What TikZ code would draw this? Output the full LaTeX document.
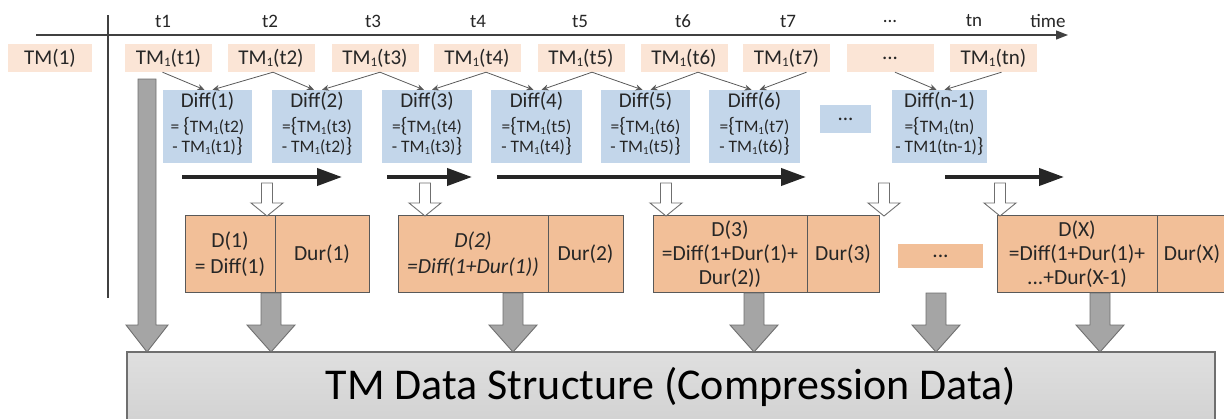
\documentclass[tikz,border=0pt]{standalone}
\usepackage{fontspec}
\setmainfont{Carlito}
\usetikzlibrary{arrows.meta,calc}

\definecolor{tmfill}{HTML}{FBE5D6}
\definecolor{difffill}{HTML}{C3D6EA}
\definecolor{dfill}{HTML}{F2BF98}
\definecolor{dline}{HTML}{595959}
\definecolor{garrow}{HTML}{A5A5A5}
\definecolor{garrowline}{HTML}{6F6F6F}
\definecolor{ink}{HTML}{262626}
\definecolor{axisink}{HTML}{404040}

\newcommand\fs[2]{\fontsize{#1}{#2}\selectfont}
% small subscript one used in TM_1
\newcommand\subone{\raisebox{-0.1em}{\scalebox{0.62}{1}}}
% downward block arrow: style, x, y top, y head, y tip, half shaft, half head
\newcommand\blockdown[7]{%
  \path[#1] (#2-#6,#3) -- (#2+#6,#3) -- (#2+#6,#4) -- (#2+#7,#4)
    -- (#2,#5) -- (#2-#7,#4) -- (#2-#6,#4) -- cycle;}
% one difference cell: name, x, width, title, second line, third line
\newcommand\diffcell[6]{%
  \node[diffbox, minimum width=#3] (#1) at (#2,126.5) {};
  \node[difftitle, anchor=base] (#1-a) at ($(#1.north)+(0,18)$) {#4};
  \node[diffline, anchor=base] (#1-b) at ($(#1.north)+(0,43)$) {#5};
  \node[diffline, anchor=base] (#1-c) at ($(#1.north)+(0,63)$) {#6};}
\newcommand\lb{{\fs{21}{21}\{}}
\newcommand\rb{{\fs{21}{21}\}}}

\begin{document}
\begin{tikzpicture}[x=1pt,y=-1pt,
  tmbox/.style={fill=tmfill, minimum height=28pt, minimum width=87pt, inner sep=0pt, font=\fs{21}{24}, text=ink},
  ticklabel/.style={inner sep=0pt, font=\fs{19}{22}, text=ink},
  diffbox/.style={fill=difffill, minimum height=73pt, inner sep=0pt},
  difftitle/.style={inner sep=0pt, font=\fs{21}{24}, text=ink},
  diffline/.style={inner sep=0pt, font=\fs{17.5}{20}, text=ink},
  dcell/.style={draw=dline, fill=dfill, line width=0.9pt, inner sep=0pt, align=center,
    minimum height=77pt, font=\fs{21.5}{24}, text=ink},
  link/.style={draw=dline, line width=0.8pt, -{Stealth[length=7pt,width=6pt]}},
  axis/.style={draw=axisink, line width=1.3pt, -{Triangle[length=12pt,width=9pt]}},
  axisline/.style={draw=axisink, line width=1.1pt},
  flow/.style={draw=ink, line width=4pt, -{Triangle[length=25pt,width=17pt]}},
  hollow/.style={draw=garrowline, fill=white, line width=0.9pt},
  solid/.style={draw=garrowline, fill=garrow, line width=0.9pt},
  basebox/.style={draw=garrowline, line width=1.2pt, top color=gray!25, bottom color=gray!35,
    minimum width=1088pt, minimum height=70pt, inner sep=0pt, font=\fs{44}{48}, text=black}
]
\useasboundingbox (0,0) rectangle (1224,418);

% time axis
\coordinate (axL) at (36,35);
\coordinate (axR) at (1068,35);
\draw[axis] (axL) -- (axR);
\coordinate (vT) at (108,15);
\coordinate (vB) at (108,298);
\draw[axisline] (vT) -- (vB);

\foreach \x/\t [count=\i] in {163/t1,270/t2,373/t3,478/t4,580/t5,683/t6,788/t7,890/{...},974/tn}
  {\node[ticklabel] (tick\i) at (\x,21) {\t};}
\node[ticklabel] (timelabel) at (1048,21) {time};

% sampled values
\node[tmbox, minimum width=84pt] (tm0) at (50,58) {TM(1)};
\foreach \x/\n/\lab in {168.5/tm1/t1,271/tm2/t2,375/tm3/t3,477/tm4/t4,581/tm5/t5,684/tm6/t6,786.5/tm7/t7,993.5/tmn/tn}
  {\node[tmbox] (\n) at (\x,58) {TM\subone(\lab)};}
\node[tmbox] (tmd) at (890,58) {...};

% differences
\diffcell{df1}{207.5}{89pt}{Diff(1)}{= \lb TM\subone(t2)}{- TM\subone(t1)\rb}
\diffcell{df2}{317}{90pt}{Diff(2)}{=\lb TM\subone(t3)}{- TM\subone(t2)\rb}
\diffcell{df3}{427}{90pt}{Diff(3)}{=\lb TM\subone(t4)}{- TM\subone(t3)\rb}
\diffcell{df4}{536.5}{91pt}{Diff(4)}{=\lb TM\subone(t5)}{- TM\subone(t4)\rb}
\diffcell{df5}{645.5}{89pt}{Diff(5)}{=\lb TM\subone(t6)}{- TM\subone(t5)\rb}
\diffcell{df6}{754.5}{91pt}{Diff(6)}{=\lb TM\subone(t7)}{- TM\subone(t6)\rb}
\diffcell{dfn}{939.5}{95pt}{Diff(n-1)}{=\lb TM\subone(tn)}{- TM1(tn-1)\rb}
\node[diffbox, minimum width=51pt, minimum height=28pt, font=\fs{21}{24}, text=ink] (dfd) at (845.5,119) {...};

% inputs of each difference
\draw[link] ($(tm1.south)+(-6,0)$) -- ($(df1.north)+(-3,0)$);
\draw[link] ($(tm2.south)+(2,0)$) -- ($(df1.north)+(5,0)$);
\draw[link] ($(tm2.south)+(2,0)$) -- ($(df2.north)+(-3,0)$);
\draw[link] ($(tm3.south)+(5,0)$) -- ($(df2.north)+(5,0)$);
\draw[link] ($(tm3.south)+(5,0)$) -- ($(df3.north)+(-3,0)$);
\draw[link] ($(tm4.south)+(9,0)$) -- ($(df3.north)+(5,0)$);
\draw[link] ($(tm4.south)+(9,0)$) -- ($(df4.north)+(-3,0)$);
\draw[link] ($(tm5.south)+(11,0)$) -- ($(df4.north)+(5,0)$);
\draw[link] ($(tm5.south)+(11,0)$) -- ($(df5.north)+(-3,0)$);
\draw[link] ($(tm6.south)+(14,0)$) -- ($(df5.north)+(5,0)$);
\draw[link] ($(tm6.south)+(14,0)$) -- ($(df6.north)+(-3,0)$);
\draw[link] ($(tm7.south)+(20,0)$) -- ($(df6.north)+(5,0)$);
\draw[link] ($(tmd.south)+(5,0)$) -- ($(dfn.north)+(-3,0)$);
\draw[link] ($(tmn.south)+(8,0)$) -- ($(dfn.north)+(5,0)$);

% duration runs
\coordinate (r1a) at (182,177); \coordinate (r1b) at (342,177);
\coordinate (r2a) at (387,177); \coordinate (r2b) at (472,177);
\coordinate (r3a) at (497,177); \coordinate (r3b) at (806,177);
\coordinate (r4a) at (945,177); \coordinate (r4b) at (1064,177);
\draw[flow] (r1a) -- (r1b);
\draw[flow] (r2a) -- (r2b);
\draw[flow] (r3a) -- (r3b);
\draw[flow] (r4a) -- (r4b);

% compressed records
\node[dcell, minimum width=90pt, font=\fs{21.5}{26}] (D1a) at (230,254) {D(1)\\= Diff(1)};
\node[dcell, minimum width=94pt] (D1b) at (322,254) {Dur(1)};
\node[dcell, minimum width=150pt, font=\fs{21.5}{26}\itshape] (D2a) at (473,254) {D(2)\\=Diff(1+Dur(1))};
\node[dcell, minimum width=75pt] (D2b) at (585.5,254) {Dur(2)};
\node[dcell, minimum width=154pt] (D3a) at (730,254) {D(3)\\=Diff(1+Dur(1)+\\Dur(2))};
\node[dcell, minimum width=72pt] (D3b) at (843,254) {Dur(3)};
\node[dcell, minimum width=160pt] (DXa) at (1077,254) {D(X)\\=Diff(1+Dur(1)+\\...+Dur(X-1)};
\node[dcell, minimum width=70pt] (DXb) at (1192,254) {Dur(X)};
\node[dcell, draw=none, minimum width=85pt, minimum height=24pt] (Dd) at (940.5,256) {...};

% hand-over arrows into the records
\foreach \x in {267,425,666,884,1000}
  {\blockdown{hollow}{\x}{183}{203}{216}{5.5}{16}}

% storage
\node[basebox] (base) at (671,387) {TM Data Structure (Compression Data)};
\blockdown{solid}{147}{79}{325}{352}{9}{21}
\foreach \x in {271,513,754,936,1100}
  {\blockdown{solid}{\x}{293}{325}{352}{10}{24}}
\end{tikzpicture}
\end{document}
